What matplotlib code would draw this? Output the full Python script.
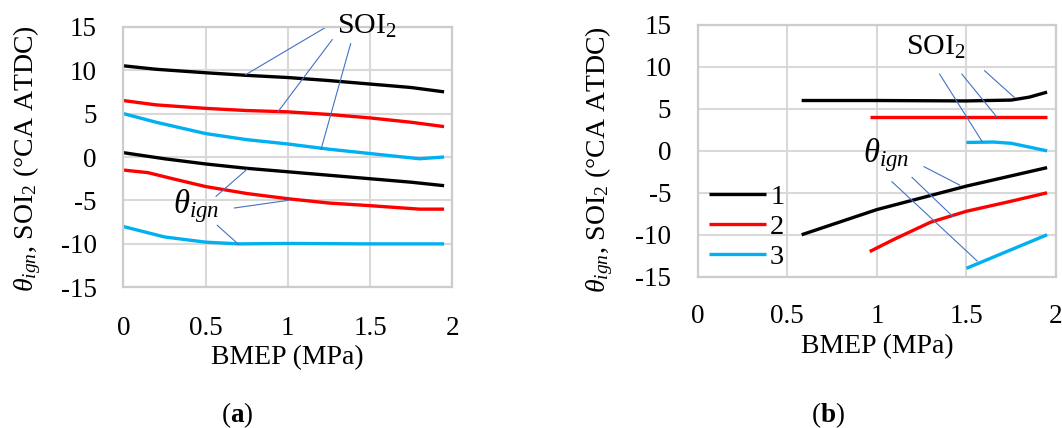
import matplotlib
matplotlib.use('Agg')
import matplotlib.pyplot as plt

plt.rcParams['font.family'] = ['Liberation Serif', 'DejaVu Serif']
plt.rcParams['mathtext.fontset'] = 'custom'
plt.rcParams['mathtext.rm'] = 'Liberation Serif'
plt.rcParams['mathtext.it'] = 'Liberation Serif:italic'
plt.rcParams['mathtext.bf'] = 'Liberation Serif:bold'
plt.rcParams['axes.unicode_minus'] = False

# panel (a): values
a_x_soi1 = [0, 0.2, 0.5, 0.75, 1.0, 1.25, 1.5, 1.75, 1.95]
a_soi1 = [10.5, 10.1, 9.7, 9.4, 9.15, 8.8, 8.4, 8.0, 7.5]
a_x_soi2 = [0, 0.2, 0.5, 0.75, 1.0, 1.25, 1.5, 1.75, 1.95]
a_soi2 = [6.5, 6.0, 5.6, 5.35, 5.2, 4.9, 4.5, 4.0, 3.5]
a_x_soi3 = [0, 0.2, 0.5, 0.75, 1.0, 1.25, 1.5, 1.8, 1.95]
a_soi3 = [5.0, 4.0, 2.7, 2.0, 1.5, 0.9, 0.4, -0.2, 0.0]
a_x_ign1 = [0, 0.25, 0.5, 0.75, 1.0, 1.25, 1.5, 1.75, 1.95]
a_ign1 = [0.5, -0.2, -0.8, -1.3, -1.7, -2.1, -2.5, -2.9, -3.3]
a_x_ign2 = [0, 0.15, 0.3, 0.5, 0.75, 1.0, 1.25, 1.5, 1.8, 1.95]
a_ign2 = [-1.5, -1.8, -2.5, -3.4, -4.2, -4.8, -5.3, -5.6, -6.0, -6.0]
a_x_ign3 = [0, 0.25, 0.5, 0.7, 1.0, 1.5, 1.95]
a_ign3 = [-8.0, -9.2, -9.8, -10.0, -9.95, -10.0, -10.0]

# panel (b)
b_x_soi1 = [0.58, 1.0, 1.5, 1.75, 1.85, 1.95]
b_soi1 = [6.0, 6.0, 5.95, 6.05, 6.4, 7.0]
b_x_soi2 = [0.96, 1.95]
b_soi2 = [4.0, 4.0]
b_x_soi3 = [1.5, 1.65, 1.75, 1.85, 1.95]
b_soi3 = [1.0, 1.05, 0.9, 0.45, 0.0]
b_x_ign1 = [0.58, 1.0, 1.5, 1.95]
b_ign1 = [-10.0, -7.0, -4.2, -2.0]
b_x_ign2 = [0.96, 1.1, 1.3, 1.5, 1.75, 1.95]
b_ign2 = [-12.0, -10.5, -8.5, -7.2, -6.0, -5.0]
b_x_ign3 = [1.5, 1.95]
b_ign3 = [-14.0, -10.0]

legend_labels = ['1', '2', '3']
colors = ['black', '#ff0000', '#00b0f0']

# leader lines (start, end) in data units
a_soi_leaders = [((1.226, 14.88), (0.744, 9.48)),
                 ((1.270, 13.51), (0.939, 5.18)),
                 ((1.382, 13.05), (1.202, 0.88))]
a_ign_leaders = [((0.564, -4.52), (0.750, -1.45)),
                 ((0.675, -5.87), (1.005, -4.98)),
                 ((0.571, -7.86), (0.702, -10.08))]
b_soi_leaders = [((1.601, 9.55), (1.767, 6.37)),
                 ((1.474, 9.15), (1.668, 4.07)),
                 ((1.350, 9.15), (1.588, 1.09))]
b_ign_leaders = [((1.263, -1.89), (1.462, -4.08)),
                 ((1.196, -3.16), (1.425, -7.85)),
                 ((1.084, -3.68), (1.560, -13.13))]

FS = 19.5
GRID = '#d9d9d9'
LEAD = '#4472c4'


def style_axes(ax, xpad, ylab_x, ylab_y, xlab_y):
    ax.set_xlim(0, 2)
    ax.set_ylim(-15, 15)
    ax.set_xticks([0, 0.5, 1, 1.5, 2])
    ax.set_xticklabels(['0', '0.5', '1', '1.5', '2'])
    ax.set_yticks([-15, -10, -5, 0, 5, 10, 15])
    ax.grid(True, color=GRID, lw=1.5)
    ax.set_axisbelow(True)
    for s in ax.spines.values():
        s.set_color('#cccccc')
        s.set_linewidth(1.6)
    ax.tick_params(axis='both', length=0, labelsize=FS)
    ax.tick_params(axis='x', pad=xpad)
    ax.tick_params(axis='y', pad=19)
    ax.set_xlabel('BMEP (MPa)', fontsize=FS + 0.5)
    ax.set_ylabel(r'$\theta_{ign}$, SOI$_2$ (°CA ATDC)', fontsize=FS + 0.5)
    ax.yaxis.set_label_coords(ylab_x, ylab_y)
    ax.xaxis.set_label_coords(0.5, xlab_y)


def draw_panel(ax, series, soi_leaders, ign_leaders, soi_pos, ign_pos):
    lines = []
    for (x, y), c in zip(series, colors * 2):
        ln, = ax.plot(x, y, color=c, lw=2.4, solid_capstyle='butt')
        lines.append(ln)
    for (x0, y0), (x1, y1) in soi_leaders + ign_leaders:
        ax.plot([x0, x1], [y0, y1], color=LEAD, lw=0.8)
    ax.text(soi_pos[0], soi_pos[1], r'SOI$_2$', fontsize=FS + 2, va='baseline')
    ax.text(ign_pos[0], ign_pos[1], r'$\theta_{ign}$', fontsize=FS + 4, va='baseline')
    return lines


fig = plt.figure(figsize=(10.62, 4.28), dpi=100)
ax_a = fig.add_axes([0.1161, 0.3287, 0.3098, 0.6089])
ax_b = fig.add_axes([0.6570, 0.3535, 0.3374, 0.5881])

series_a = [(a_x_soi1, a_soi1), (a_x_soi2, a_soi2), (a_x_soi3, a_soi3),
            (a_x_ign1, a_ign1), (a_x_ign2, a_ign2), (a_x_ign3, a_ign3)]
series_b = [(b_x_soi1, b_soi1), (b_x_soi2, b_soi2), (b_x_soi3, b_soi3),
            (b_x_ign1, b_ign1), (b_x_ign2, b_ign2), (b_x_ign3, b_ign3)]

style_axes(ax_a, 21, -0.244, 0.492, -0.221)
style_axes(ax_b, 20, -0.231, 0.466, -0.227)

draw_panel(ax_a, series_a, a_soi_leaders, a_ign_leaders, (1.30, 14.2), (0.30, -6.5))
lines_b = draw_panel(ax_b, series_b, b_soi_leaders, b_ign_leaders, (1.16, 11.4), (0.92, -1.3))

ax_b.legend(lines_b[3:], legend_labels, loc='center left', bbox_to_anchor=(0.031, 0.198),
            frameon=False, fontsize=FS + 1, handlelength=2.0, handletextpad=0.15,
            labelspacing=0.15, borderpad=0, borderaxespad=0)

fig.text(237 / 1062, 1 - 415 / 428, r'($\mathbf{a}$)', ha='center', va='center', fontsize=FS)
fig.text(828 / 1062, 1 - 415 / 428, r'($\mathbf{b}$)', ha='center', va='center', fontsize=FS)

fig.savefig('out.png', dpi=100)
